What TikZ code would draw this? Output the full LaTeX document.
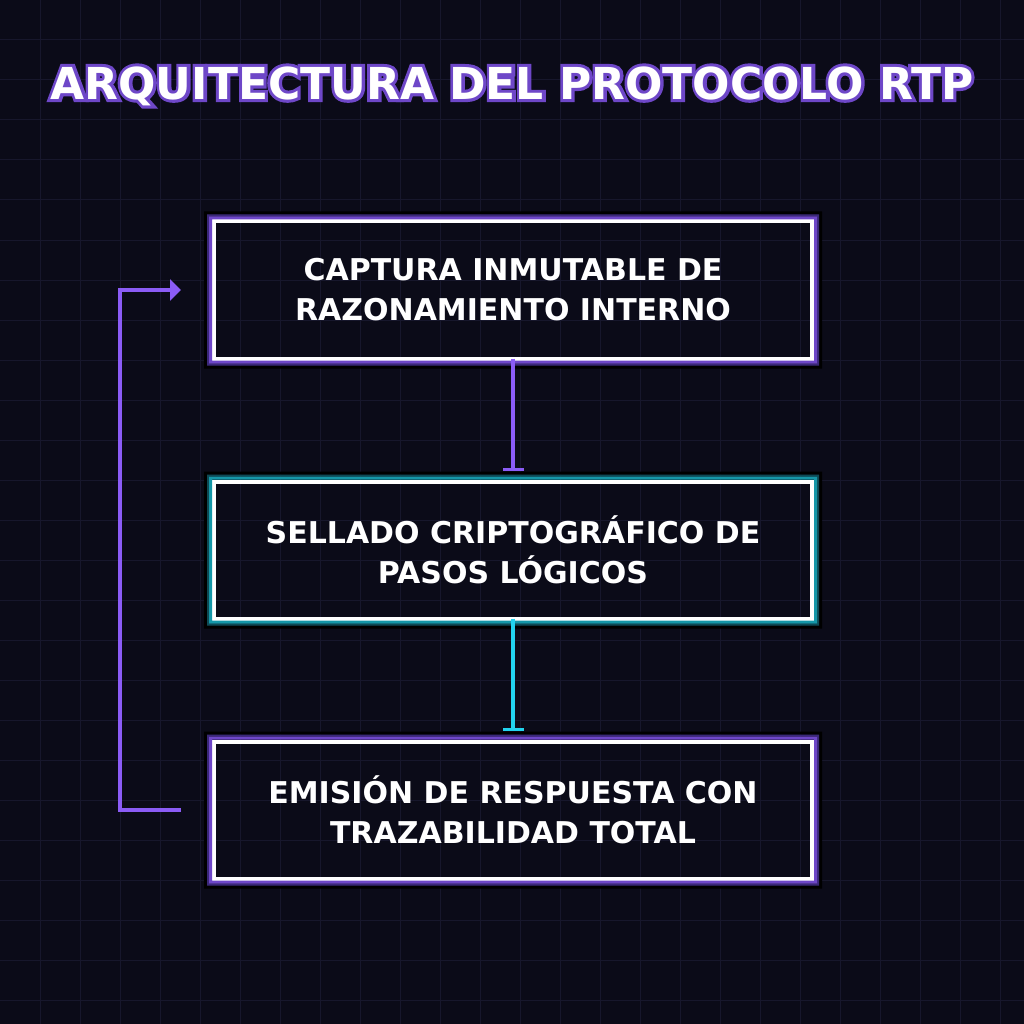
\documentclass[tikz,border=0pt]{standalone}
\usepackage{fontspec}
\setmainfont{DejaVu Sans}
\newfontfamily\glowfont[FakeBold=14]{DejaVu Sans Bold}
\newfontfamily\shadefont[FakeBold=22]{DejaVu Sans Bold}
\newfontfamily\plainbold{DejaVu Sans Bold}
\usetikzlibrary{arrows.meta}
\definecolor{bgc}{HTML}{0B0B18}
\definecolor{gridc}{HTML}{17172C}
\definecolor{purp}{HTML}{8B5CF6}
\definecolor{purpglow}{HTML}{6E47C8}
\definecolor{purpdark}{HTML}{3A2878}
\definecolor{cyanc}{HTML}{22D3EE}
\definecolor{tealglow}{HTML}{1597A8}
\definecolor{tealdark}{HTML}{0D4A55}
\definecolor{shadowc}{HTML}{000000}
\tikzset{
  stage/.style={draw=white, line width=4pt, minimum width=598pt, minimum height=137pt,
    inner sep=0pt, outer sep=0pt, align=center, text=white,
    font=\bfseries\fontsize{30}{40}\selectfont},
  titletext/.style={inner sep=0pt},
  flowp/.style={draw=purp, line width=4pt},
  flowc/.style={draw=cyanc, line width=4pt},
}
\newcommand{\glowbox}[4]{% node, outer color, mid color, inner color
  \fill[#2, even odd rule] ([shift={(-10pt,10pt)}]#1.north west) rectangle ([shift={(10pt,-10pt)}]#1.south east)
     ([shift={(-7pt,7pt)}]#1.north west) rectangle ([shift={(7pt,-7pt)}]#1.south east);
  \fill[#3, even odd rule] ([shift={(-7pt,7pt)}]#1.north west) rectangle ([shift={(7pt,-7pt)}]#1.south east)
     ([shift={(-5pt,5pt)}]#1.north west) rectangle ([shift={(5pt,-5pt)}]#1.south east);
  \fill[#4, even odd rule] ([shift={(-5pt,5pt)}]#1.north west) rectangle ([shift={(5pt,-5pt)}]#1.south east)
     ([shift={(-2pt,2pt)}]#1.north west) rectangle ([shift={(2pt,-2pt)}]#1.south east);
}
\begin{document}
\begin{tikzpicture}[x=1pt,y=-1pt]
\fill[bgc] (0,0) rectangle (1024,1024);
\useasboundingbox (0,0) rectangle (1024,1024);
\foreach \g in {40,80,...,1000} {
  \draw[gridc, line width=1pt] (\g,0) -- (\g,1024);
  \draw[gridc, line width=1pt] (0,\g) -- (1024,\g);
}
% title
\node[titletext, text=purpglow, font=\glowfont\fontsize{44}{48}\selectfont] (titleglow) at (512,86) {ARQUITECTURA DEL PROTOCOLO RTP};
\node[titletext, text=white, font=\plainbold\fontsize{44}{48}\selectfont] (title) at (512,86) {ARQUITECTURA DEL PROTOCOLO RTP};
% stages
\node[stage] (s1) at (513,290) {CAPTURA INMUTABLE DE\\RAZONAMIENTO INTERNO};
\node[stage] (s2) at (513,550) {SELLADO CRIPTOGRÁFICO DE\\PASOS LÓGICOS};
\node[stage] (s3) at (513,810) {EMISIÓN DE RESPUESTA CON\\TRAZABILIDAD TOTAL};
\glowbox{s1}{shadowc}{purpdark}{purpglow}
\glowbox{s2}{shadowc}{tealdark}{tealglow}
\glowbox{s3}{shadowc}{purpdark}{purpglow}
% connectors
\draw[flowp, -{Bar[width=21pt,line width=2.5pt]}] (s1.south) -- ([yshift=11pt]s2.north);
\draw[flowc, -{Bar[width=21pt,line width=2.5pt]}] (s2.south) -- ([yshift=11pt]s3.north);
\coordinate (loopstart) at ([xshift=-33pt]s3.west);
\coordinate (loopend) at ([xshift=-33pt]s1.west);
\draw[flowp, -{Triangle[length=11pt,width=21pt]}] (loopstart) -| (120,550) |- (loopend);
\end{tikzpicture}
\end{document}
